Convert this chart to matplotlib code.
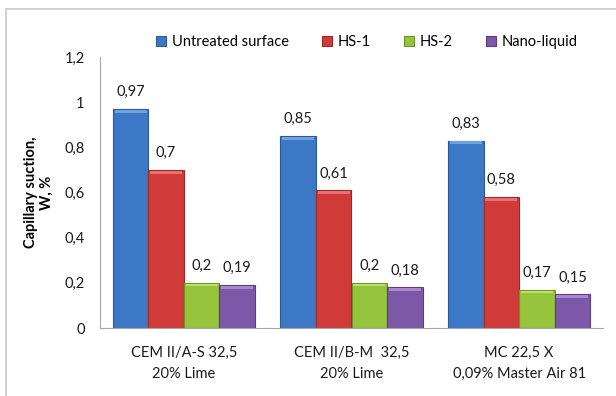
import numpy as np
import matplotlib
matplotlib.use("Agg")
import matplotlib.pyplot as plt
from matplotlib.patches import Rectangle
from matplotlib.ticker import FuncFormatter

plt.rcParams['font.family'] = ['Lato', 'DejaVu Sans']

categories = ["CEM II/A-S 32,5\n20% Lime", "CEM II/B-M  32,5\n20% Lime", "MC 22,5 X\n0,09% Master Air 81"]
series_names = ["Untreated surface", "HS-1", "HS-2", "Nano-liquid"]
untreated = [0.97, 0.85, 0.83]
hs1 = [0.70, 0.61, 0.58]
hs2 = [0.20, 0.20, 0.17]
nano = [0.19, 0.18, 0.15]
y_ticks = [0, 0.2, 0.4, 0.6, 0.8, 1.0, 1.2]

series = [untreated, hs1, hs2, nano]
colors = ["#3C78C6", "#D03A38", "#96C43C", "#7D58A8"]
edges = ["#2A5A98", "#9E2826", "#6E9426", "#5A3C80"]
tops = ["#6FA0E0", "#E87070", "#BCE070", "#A888CC"]

fig = plt.figure(figsize=(6.16, 3.96), dpi=100)
ax = fig.add_axes([100 / 616, 1 - 328 / 396, 503 / 616, 271 / 396])

x = np.arange(len(categories))
width = 0.212
offsets = (np.arange(len(series)) - 1.5) * width

for vals, name, c, ec, tc, off in zip(series, series_names, colors, edges, tops, offsets):
    bars = ax.bar(x + off, vals, width, color=c, edgecolor=ec, linewidth=0.8, label=name)
    # lighter bevel strip along each bar top
    ax.bar(x + off, [0.012] * len(vals), width * 0.9, bottom=np.array(vals) - 0.016,
           color=tc, linewidth=0)
    for b, v in zip(bars, vals):
        ax.annotate(f"{v:g}".replace(".", ","), (b.get_x() + b.get_width() / 2, v),
                    xytext=(0, 7), textcoords="offset points", ha="center", va="bottom",
                    fontsize=10.5, color="#1a1a1a")

ax.set_xlim(-0.5, 2.5)
ax.set_ylim(0, 1.2)
ax.set_yticks(y_ticks)
ax.yaxis.set_major_formatter(FuncFormatter(lambda v, p: f"{v:g}".replace(".", ",")))
ax.set_xticks(x)
ax.set_xticklabels(categories, fontsize=10.5, linespacing=1.6)
ax.tick_params(axis="y", length=0, pad=11, labelsize=10.5, labelcolor="#1a1a1a")
ax.tick_params(axis="x", length=0, pad=13, labelcolor="#1a1a1a")
for s in ["top", "right"]:
    ax.spines[s].set_visible(False)
ax.spines["left"].set_color("#a6a6a6")
ax.spines["bottom"].set_color("#a6a6a6")

ax.set_ylabel("Capillary suction,\nW, %", fontsize=10.5, fontweight="bold")
ax.yaxis.set_label_coords(-0.091, 0.5)

ax.legend(loc="center left", bbox_to_anchor=(0.100, 1.055), ncol=4, frameon=False,
          fontsize=10.5, handlelength=0.7, handleheight=0.7, columnspacing=2.25,
          handletextpad=0.4, borderaxespad=0)

# outer chart frame
fig.patches.append(Rectangle((6 / 616, -0.1), 1.2, 1 - 9 / 396 + 0.1, transform=fig.transFigure,
                             fill=False, edgecolor="#c8c8c8", linewidth=1.2))

fig.savefig("out.png", dpi=100)
